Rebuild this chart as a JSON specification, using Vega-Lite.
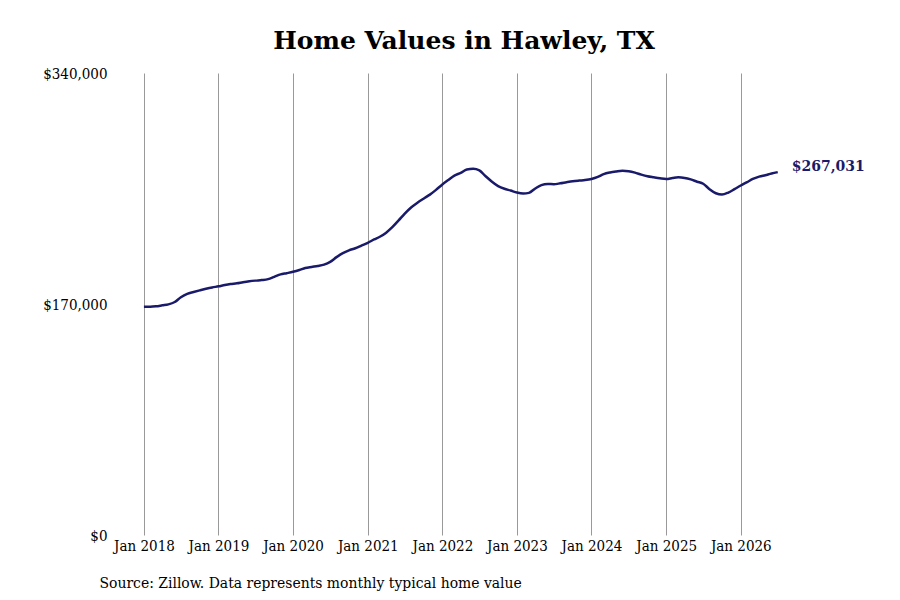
{
  "$schema": "https://vega.github.io/schema/vega-lite/v6.json",
  "autosize": "none",
  "width": 690,
  "height": 462,
  "padding": {"left": 119, "top": 73, "right": 91, "bottom": 65},
  "background": "white",
  "config": {
    "view": {"stroke": null},
    "font": "DejaVu Serif Condensed"
  },
  "title": {
    "text": "Home Values in Hawley, TX",
    "font": "DejaVu Serif",
    "fontSize": 25,
    "fontWeight": "bold",
    "color": "black",
    "anchor": "middle",
    "offset": 12
  },
  "data": {
    "values": [
      {"date": "2018/01/01", "value": 168000},
      {"date": "2018/02/01", "value": 168000},
      {"date": "2018/03/01", "value": 168300},
      {"date": "2018/04/01", "value": 169000},
      {"date": "2018/05/01", "value": 169700},
      {"date": "2018/06/01", "value": 171500},
      {"date": "2018/07/01", "value": 175000},
      {"date": "2018/08/01", "value": 177500},
      {"date": "2018/09/01", "value": 178800},
      {"date": "2018/10/01", "value": 180000},
      {"date": "2018/11/01", "value": 181200},
      {"date": "2018/12/01", "value": 182200},
      {"date": "2019/01/01", "value": 183000},
      {"date": "2019/02/01", "value": 184000},
      {"date": "2019/03/01", "value": 184700},
      {"date": "2019/04/01", "value": 185200},
      {"date": "2019/05/01", "value": 186000},
      {"date": "2019/06/01", "value": 186700},
      {"date": "2019/07/01", "value": 187200},
      {"date": "2019/08/01", "value": 187600},
      {"date": "2019/09/01", "value": 188300},
      {"date": "2019/10/01", "value": 190000},
      {"date": "2019/11/01", "value": 191800},
      {"date": "2019/12/01", "value": 192700},
      {"date": "2020/01/01", "value": 193700},
      {"date": "2020/02/01", "value": 195000},
      {"date": "2020/03/01", "value": 196500},
      {"date": "2020/04/01", "value": 197300},
      {"date": "2020/05/01", "value": 198000},
      {"date": "2020/06/01", "value": 199000},
      {"date": "2020/07/01", "value": 201000},
      {"date": "2020/08/01", "value": 204500},
      {"date": "2020/09/01", "value": 207500},
      {"date": "2020/10/01", "value": 209500},
      {"date": "2020/11/01", "value": 211000},
      {"date": "2020/12/01", "value": 213000},
      {"date": "2021/01/01", "value": 215000},
      {"date": "2021/02/01", "value": 217500},
      {"date": "2021/03/01", "value": 219500},
      {"date": "2021/04/01", "value": 222500},
      {"date": "2021/05/01", "value": 226500},
      {"date": "2021/06/01", "value": 231500},
      {"date": "2021/07/01", "value": 236500},
      {"date": "2021/08/01", "value": 241000},
      {"date": "2021/09/01", "value": 244500},
      {"date": "2021/10/01", "value": 247500},
      {"date": "2021/11/01", "value": 250500},
      {"date": "2021/12/01", "value": 254000},
      {"date": "2022/01/01", "value": 258000},
      {"date": "2022/02/01", "value": 261500},
      {"date": "2022/03/01", "value": 264500},
      {"date": "2022/04/01", "value": 266500},
      {"date": "2022/05/01", "value": 269000},
      {"date": "2022/06/01", "value": 269500},
      {"date": "2022/07/01", "value": 268300},
      {"date": "2022/08/01", "value": 264000},
      {"date": "2022/09/01", "value": 260000},
      {"date": "2022/10/01", "value": 256800},
      {"date": "2022/11/01", "value": 254800},
      {"date": "2022/12/01", "value": 253500},
      {"date": "2023/01/01", "value": 252000},
      {"date": "2023/02/01", "value": 251300},
      {"date": "2023/03/01", "value": 251800},
      {"date": "2023/04/01", "value": 255000},
      {"date": "2023/05/01", "value": 257500},
      {"date": "2023/06/01", "value": 258300},
      {"date": "2023/07/01", "value": 258200},
      {"date": "2023/08/01", "value": 258800},
      {"date": "2023/09/01", "value": 259600},
      {"date": "2023/10/01", "value": 260300},
      {"date": "2023/11/01", "value": 260800},
      {"date": "2023/12/01", "value": 261200},
      {"date": "2024/01/01", "value": 262000},
      {"date": "2024/02/01", "value": 263500},
      {"date": "2024/03/01", "value": 265600},
      {"date": "2024/04/01", "value": 266800},
      {"date": "2024/05/01", "value": 267500},
      {"date": "2024/06/01", "value": 268000},
      {"date": "2024/07/01", "value": 267700},
      {"date": "2024/08/01", "value": 266700},
      {"date": "2024/09/01", "value": 265200},
      {"date": "2024/10/01", "value": 264000},
      {"date": "2024/11/01", "value": 263200},
      {"date": "2024/12/01", "value": 262500},
      {"date": "2025/01/01", "value": 262000},
      {"date": "2025/02/01", "value": 262700},
      {"date": "2025/03/01", "value": 263200},
      {"date": "2025/04/01", "value": 262800},
      {"date": "2025/05/01", "value": 261700},
      {"date": "2025/06/01", "value": 260000},
      {"date": "2025/07/01", "value": 258500},
      {"date": "2025/08/01", "value": 254500},
      {"date": "2025/09/01", "value": 251500},
      {"date": "2025/10/01", "value": 250500},
      {"date": "2025/11/01", "value": 252000},
      {"date": "2025/12/01", "value": 254500},
      {"date": "2026/01/01", "value": 257200},
      {"date": "2026/02/01", "value": 259700},
      {"date": "2026/03/01", "value": 262000},
      {"date": "2026/04/01", "value": 263700},
      {"date": "2026/05/01", "value": 264800},
      {"date": "2026/06/01", "value": 266000},
      {"date": "2026/07/01", "value": 267031}
    ]
  },
  "encoding": {
    "x": {
      "field": "date",
      "type": "temporal",
      "title": "Source: Zillow. Data represents monthly typical home value",
      "scale": {
        "domain": [
          {"year": 2017, "month": 9, "date": 1},
          {"year": 2026, "month": 12, "date": 1}
        ]
      },
      "axis": {
        "format": "Jan %Y",
        "tickCount": {"interval": "year", "step": 1},
        "grid": true,
        "gridColor": "#999999",
        "gridWidth": 1,
        "domain": false,
        "ticks": false,
        "labelFontSize": 15,
        "labelColor": "black",
        "labelPadding": 3,
        "titleFont": "DejaVu Serif Condensed",
        "titleFontSize": 15.5,
        "titleFontWeight": "normal",
        "titleColor": "black",
        "titleAnchor": "start",
        "titleAlign": "left",
        "titleBaseline": "middle",
        "titleX": -20,
        "titleY": 47
      }
    },
    "y": {
      "field": "value",
      "type": "quantitative",
      "title": null,
      "scale": {"domain": [0, 340000], "nice": false},
      "axis": {
        "values": [0, 170000, 340000],
        "format": "$,.0f",
        "grid": false,
        "domain": false,
        "ticks": false,
        "labelFontSize": 15,
        "labelColor": "black",
        "labelPadding": 12
      }
    }
  },
  "layer": [
    {
      "mark": {"type": "line", "color": "#1a1a6a", "strokeWidth": 2.5, "interpolate": "monotone"}
    },
    {
      "transform": [{"filter": "datum.value == 267031"}],
      "mark": {
        "type": "text",
        "align": "left",
        "baseline": "middle",
        "dx": 14,
        "dy": -5,
        "fontSize": 14,
        "fontWeight": "bold",
        "font": "DejaVu Serif",
        "color": "#1a1a6a"
      },
      "encoding": {
        "text": {"field": "value", "type": "quantitative", "format": "$,.0f"}
      }
    }
  ]
}
